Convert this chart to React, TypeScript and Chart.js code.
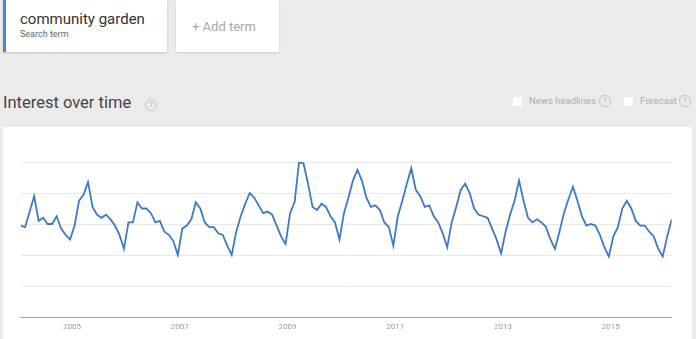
import React, { useEffect, useRef } from "react";
import { Chart, registerables } from "chart.js";

Chart.register(...registerables);

// Monthly interest, Jan 2004 .. Feb 2016
const interest2004 = [59, 58, 68, 78, 62, 64, 60, 60, 65, 57, 53, 50];
const interest2005 = [59, 75, 79, 87, 71, 66, 64, 66, 63, 59, 53, 44];
const interest2006 = [61, 61, 74, 70, 70, 67, 61, 62, 55, 53, 49, 40];
const interest2007 = [57, 59, 63, 74, 70, 61, 58, 58, 54, 53, 46, 40];
const interest2008 = [55, 65, 73, 80, 77, 72, 67, 68, 66, 59, 52, 47];
const interest2009 = [67, 74, 100, 99, 86, 71, 69, 73, 71, 65, 61, 50];
const interest2010 = [67, 77, 88, 95, 88, 77, 71, 72, 69, 61, 58, 46];
const interest2011 = [65, 75, 86, 96, 82, 78, 71, 72, 65, 61, 54, 45];
const interest2012 = [61, 71, 82, 86, 80, 70, 66, 65, 64, 57, 50, 41];
const interest2013 = [55, 66, 75, 88, 75, 64, 61, 63, 61, 58, 50, 44];
const interest2014 = [55, 67, 76, 84, 75, 65, 59, 60, 59, 53, 45, 39];
const interest2015 = [52, 58, 70, 75, 70, 62, 59, 59, 55, 52, 44, 39];
const interest2016 = [52, 63];

const interestValues = [
  ...interest2004, ...interest2005, ...interest2006, ...interest2007,
  ...interest2008, ...interest2009, ...interest2010, ...interest2011,
  ...interest2012, ...interest2013, ...interest2014, ...interest2015,
  ...interest2016,
];

// month index (0 = Jan 2004) of each labelled tick
const xTickMonths = [12, 36, 60, 84, 108, 132];
const xTickLabels = ["2005", "2007", "2009", "2011", "2013", "2015"];
const yTickValues = [0, 20, 40, 60, 80, 100];

const searchTerm = "community garden";
const searchSub = "Search term";
const addTerm = "+ Add term";
const title = "Interest over time";
const newsLabel = "News headlines";
const forecastLabel = "Forecast";

const FONT = "Roboto, 'Liberation Sans', Arial, sans-serif";

function HelpIcon({ left, top }: { left: number; top: number }) {
  return (
    <div
      style={{
        position: "absolute",
        left,
        top,
        width: 10,
        height: 10,
        borderRadius: "50%",
        border: "1px solid #c4c4c4",
        color: "#b0b0b0",
        fontSize: 8,
        lineHeight: "10px",
        textAlign: "center",
        fontFamily: FONT,
        background: "transparent",
      }}
    >
      ?
    </div>
  );
}

export default function App() {
  const canvasRef = useRef<HTMLCanvasElement | null>(null);

  useEffect(() => {
    if (!canvasRef.current) return;
    const points = interestValues.map((v, i) => ({ x: i, y: v }));
    const chart = new Chart(canvasRef.current, {
      type: "line",
      data: {
        datasets: [
          {
            data: points,
            borderColor: "#3d7ac6",
            borderWidth: 1.8,
            pointRadius: 0,
            tension: 0,
            fill: false,
          },
        ],
      },
      options: {
        animation: false,
        responsive: false,
        maintainAspectRatio: false,
        layout: { padding: { left: 17.7, right: 20.3, top: 35, bottom: 0 } },
        plugins: { legend: { display: false }, tooltip: { enabled: false } },
        scales: {
          x: {
            type: "linear",
            min: 0,
            max: interestValues.length - 1,
            grid: { display: false, drawTicks: false },
            border: { display: true, color: "#a3a3a3", width: 1 },
            afterBuildTicks: (axis: any) => {
              axis.ticks = xTickMonths.map((v) => ({ value: v }));
            },
            afterFit: (axis: any) => {
              axis.height = 22;
            },
            ticks: {
              autoSkip: false,
              maxRotation: 0,
              padding: 5,
              labelOffset: -2.5,
              color: "#9c9c9c",
              font: { family: FONT, size: 8 },
              callback: (v: any) => {
                const k = xTickMonths.indexOf(Number(v));
                return k >= 0 ? xTickLabels[k] : "";
              },
            },
          },
          y: {
            min: 0,
            max: 100,
            afterBuildTicks: (axis: any) => {
              axis.ticks = yTickValues.map((v) => ({ value: v }));
            },
            afterFit: (axis: any) => {
              axis.width = 0;
            },
            ticks: { display: false },
            border: { display: false },
            grid: {
              drawTicks: false,
              color: (ctx: any) =>
                ctx.tick && ctx.tick.value === 0 ? "rgba(0,0,0,0)" : "#e9e9e9",
              lineWidth: 1,
            },
          },
        },
      },
    });
    return () => chart.destroy();
  }, []);

  return (
    <div
      style={{
        position: "fixed",
        left: 0,
        top: 0,
        width: 696,
        height: 339,
        overflow: "hidden",
        background: "#ecebeb",
        fontFamily: FONT,
      }}
    >
      {/* search term card */}
      <div
        style={{
          position: "absolute",
          left: 3,
          top: 0,
          width: 164,
          height: 52,
          background: "#ffffff",
          boxShadow: "0 1px 2px rgba(0,0,0,0.18)",
        }}
      >
        <div
          style={{
            position: "absolute",
            left: 0,
            top: 0,
            width: 3,
            height: 52,
            background: "#4a86d8",
          }}
        />
        <div
          style={{
            position: "absolute",
            left: 17,
            top: 10,
            fontSize: 15,
            color: "#333",
            whiteSpace: "nowrap",
          }}
        >
          {searchTerm}
        </div>
        <div
          style={{
            position: "absolute",
            left: 17,
            top: 29,
            fontSize: 9,
            color: "#666",
            whiteSpace: "nowrap",
          }}
        >
          {searchSub}
        </div>
      </div>

      {/* add term card */}
      <div
        style={{
          position: "absolute",
          left: 176,
          top: 0,
          width: 103,
          height: 52,
          background: "#ffffff",
          boxShadow: "0 1px 2px rgba(0,0,0,0.12)",
        }}
      >
        <div
          style={{
            position: "absolute",
            left: 16,
            top: 19,
            fontSize: 13,
            color: "#a8a8a8",
            whiteSpace: "nowrap",
          }}
        >
          {addTerm}
        </div>
      </div>

      {/* title */}
      <div
        style={{
          position: "absolute",
          left: 3,
          top: 93,
          fontSize: 16.5,
          color: "#444",
          whiteSpace: "nowrap",
        }}
      >
        {title}
      </div>
      <HelpIcon left={145} top={99} />

      {/* right-side toggles */}
      <div
        style={{
          position: "absolute",
          left: 513,
          top: 97,
          width: 9,
          height: 9,
          background: "#fff",
        }}
      />
      <div
        style={{
          position: "absolute",
          left: 529,
          top: 95,
          fontSize: 9.5,
          color: "#adadad",
          whiteSpace: "nowrap",
        }}
      >
        {newsLabel}
      </div>
      <HelpIcon left={599} top={95} />
      <div
        style={{
          position: "absolute",
          left: 624,
          top: 97,
          width: 9,
          height: 9,
          background: "#fff",
        }}
      />
      <div
        style={{
          position: "absolute",
          left: 640,
          top: 95,
          fontSize: 9.5,
          color: "#adadad",
          whiteSpace: "nowrap",
        }}
      >
        {forecastLabel}
      </div>
      <HelpIcon left={679} top={95} />

      {/* chart panel */}
      <div
        style={{
          position: "absolute",
          left: 3,
          top: 127,
          width: 689,
          height: 212,
          background: "#ffffff",
        }}
      >
        <canvas
          ref={canvasRef}
          width={689}
          height={212}
          style={{ display: "block", width: 689, height: 212 }}
        />
      </div>
    </div>
  );
}
